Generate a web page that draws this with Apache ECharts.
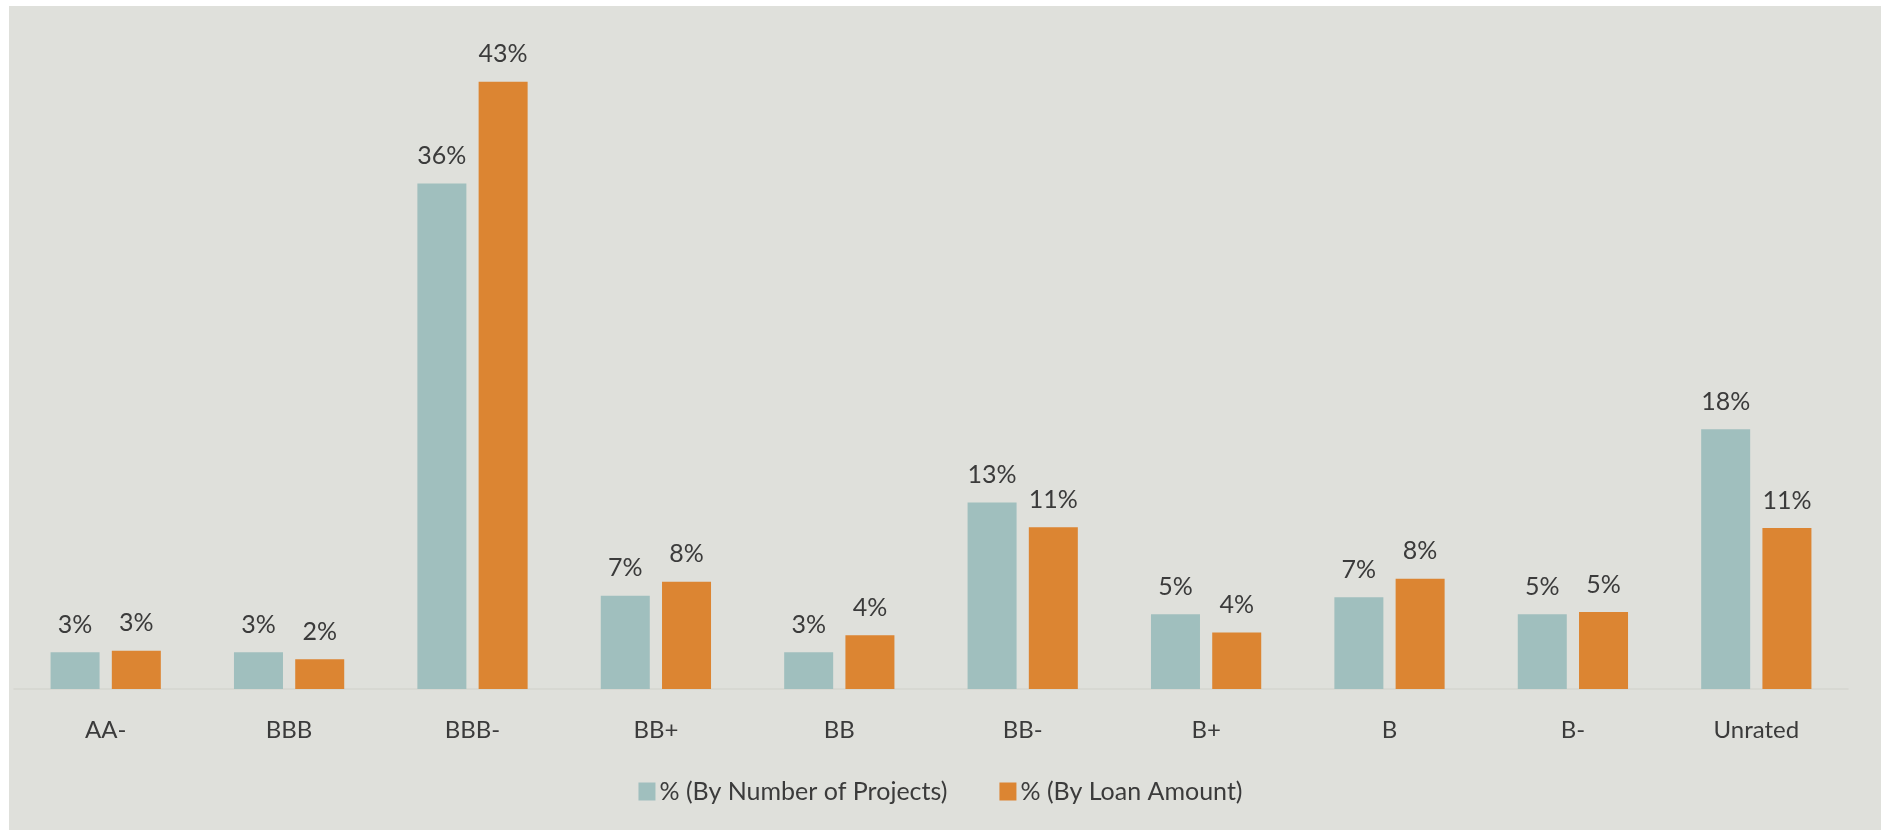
<!DOCTYPE html>
<html>
<head>
<meta charset="utf-8">
<script src="https://cdn.jsdelivr.net/npm/echarts@6/dist/echarts.min.js"></script>
<style>
  html, body { margin: 0; padding: 0; background: #ffffff; }
  #bg { position: absolute; left: 9px; top: 6px; right: 0; bottom: 0; width: 1872px; height: 824px; background: #dfe0db; }
  #chart { position: absolute; left: 0; top: 0; width: 1881px; height: 830px; }
</style>
</head>
<body>
<div id="bg"></div>
<div id="chart"></div>
<script>
var ratings = ['AA-', 'BBB', 'BBB-', 'BB+', 'BB', 'BB-', 'B+', 'B', 'B-', 'Unrated'];
var byProjects = [2.6, 2.6, 35.8, 6.6, 2.6, 13.2, 5.3, 6.5, 5.3, 18.4];
var byLoan = [2.7, 2.1, 43.0, 7.6, 3.8, 11.45, 4.0, 7.8, 5.45, 11.4];
var seriesNames = ['% (By Number of Projects)', '% (By Loan Amount)'];

var myChart = echarts.init(document.getElementById('chart'));

var textColor = '#3b3b3b';
var fontName = 'Lato';

function pct(p) {
  return Math.round(p.value) + '%';
}

var option = {
  backgroundColor: 'transparent',
  textStyle: { fontFamily: fontName },
  legend: {
    data: seriesNames,
    bottom: 21,
    left: 'center',
    itemWidth: 17,
    itemHeight: 18,
    itemGap: 52,
    icon: 'rect',
    textStyle: {
      color: textColor,
      fontSize: 25,
      fontFamily: fontName,
      padding: [0, 0, 0, -1]
    }
  },
  grid: {
    left: 14,
    right: 33,
    top: 53.5,
    bottom: 141
  },
  xAxis: {
    type: 'category',
    data: ratings,
    axisTick: { show: false },
    axisLine: { lineStyle: { color: '#d5d5d0', width: 1.5 } },
    axisLabel: {
      color: textColor,
      fontSize: 24,
      fontFamily: fontName,
      margin: 29
    }
  },
  yAxis: {
    type: 'value',
    min: 0,
    max: 45,
    show: false,
    splitLine: { show: false }
  },
  series: [
    {
      name: seriesNames[0],
      type: 'bar',
      data: byProjects,
      barWidth: 49,
      barGap: '25%',
      itemStyle: { color: '#a0bfbe' },
      label: {
        show: true,
        position: 'top',
        distance: 15,
        color: textColor,
        fontSize: 25,
        fontFamily: fontName,
        formatter: pct
      }
    },
    {
      name: seriesNames[1],
      type: 'bar',
      data: byLoan,
      barWidth: 49,
      barGap: '25%',
      itemStyle: { color: '#dc8532' },
      label: {
        show: true,
        position: 'top',
        distance: 15,
        color: textColor,
        fontSize: 25,
        fontFamily: fontName,
        formatter: pct
      }
    }
  ]
};

myChart.setOption(option);
</script>
</body>
</html>
